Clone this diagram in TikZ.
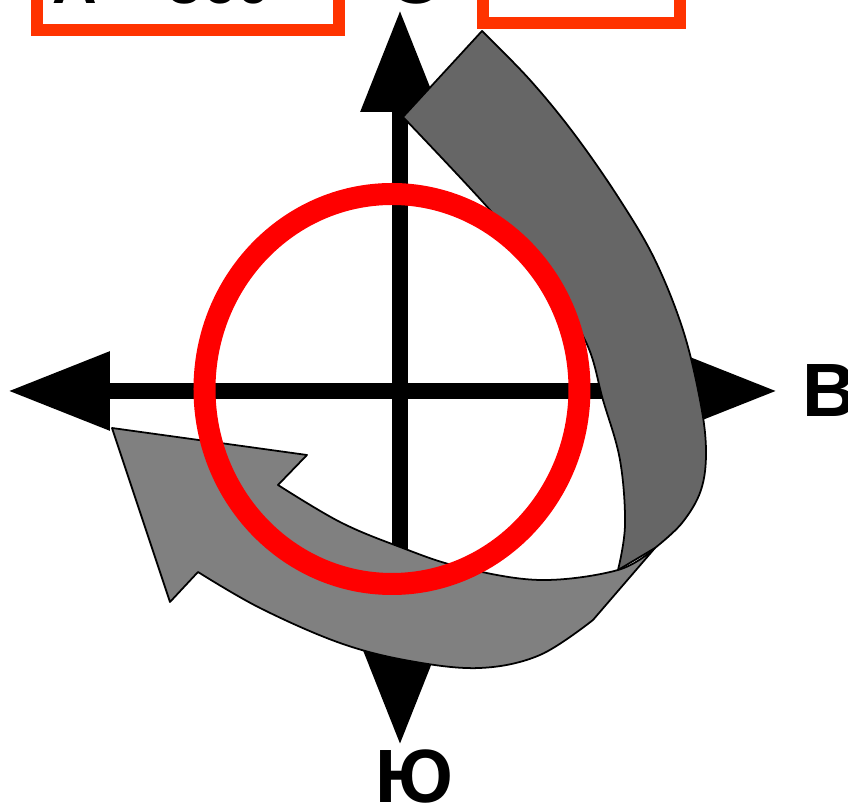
\documentclass[tikz,border=0pt]{standalone}
\usepackage{fontspec}
\setmainfont{Liberation Sans}
\usepackage{tikz}
\usetikzlibrary{arrows.meta}

\definecolor{boxred}{HTML}{FF3300}
\definecolor{darkribbon}{HTML}{666666}
\definecolor{lightribbon}{HTML}{808080}

\begin{document}
\begin{tikzpicture}[>={Triangle[length=1.02cm,width=0.75cm]}]
\tikzstyle{axis}=[line width=0.16cm]
\tikzstyle{ribbon}=[draw=black, line width=0.5pt, line join=round]
\tikzstyle{ring}=[draw=red, line width=0.22cm]
\tikzstyle{infobox}=[draw=boxred, line width=0.115cm, rectangle, outer sep=0pt, anchor=south, minimum height=1.2cm]
\tikzstyle{letter}=[font=\bfseries\fontsize{21.5pt}{24pt}\selectfont, inner sep=0pt, anchor=base]

\useasboundingbox (-4.00,-4.15) rectangle (4.48,3.91);
\clip (-4.00,-4.15) rectangle (4.48,3.91);

% compass axes
\coordinate (west) at (-3.92,0);
\coordinate (east) at (3.77,0);
\coordinate (north) at (0,3.81);
\coordinate (south) at (0,-3.54);
\draw[axis,<->] (west) -- (east);
\draw[axis,<->] (south) -- (north);

% twisted ribbon arrow
\filldraw[ribbon, fill=darkribbon] (0.03,2.74) -- (0.82,3.60)
  -- plot[smooth, tension=0.6] coordinates {(0.82,3.60) (1.30,3.11) (1.75,2.56) (2.20,1.91) (2.55,1.31) (2.83,0.61) (3.00,-0.09) (3.06,-0.59) (3.01,-0.99) (2.82,-1.32) (2.55,-1.57)}
  -- (2.18,-1.79)
  -- plot[smooth, tension=0.6] coordinates {(2.18,-1.79) (2.25,-1.34) (2.20,-0.69) (2.03,-0.09) (1.85,0.51) (1.40,1.19) (0.90,1.81) (0.03,2.74)}
  -- cycle;
\filldraw[ribbon, fill=lightribbon] plot[smooth, tension=0.6] coordinates {(2.55,-1.57) (2.18,-1.79) (1.40,-1.89) (0.60,-1.76) (0,-1.56) (-0.60,-1.31) (-1.22,-0.94)}
  -- (-0.93,-0.64) -- (-2.88,-0.37) -- (-2.30,-2.11) -- (-2.02,-1.81)
  -- plot[smooth, tension=0.6] coordinates {(-2.02,-1.81) (-1.40,-2.17) (-0.60,-2.52) (0.10,-2.70) (0.80,-2.77) (1.40,-2.64) (1.93,-2.29)}
  -- cycle;

% red ring
\draw[ring] (-0.08,0.02) ellipse [x radius=1.875, y radius=1.95];

% boxes on top
\node[infobox, minimum width=3.02cm] (azbox) at (-2.12,3.61) {};
\node[infobox, minimum width=1.97cm] (valbox) at (1.815,3.68) {};
\node[letter, anchor=base west, font=\bfseries\fontsize{17.6pt}{20pt}\selectfont] (az) at (-3.48,3.87) {А = 360°};

% compass letters
\node[letter] (n) at (0.15,3.87) {С};
\node[letter, anchor=base west] (e) at (4.02,-0.26) {В};
\node[letter] (s) at (0.14,-4.12) {Ю};
\end{tikzpicture}
\end{document}
